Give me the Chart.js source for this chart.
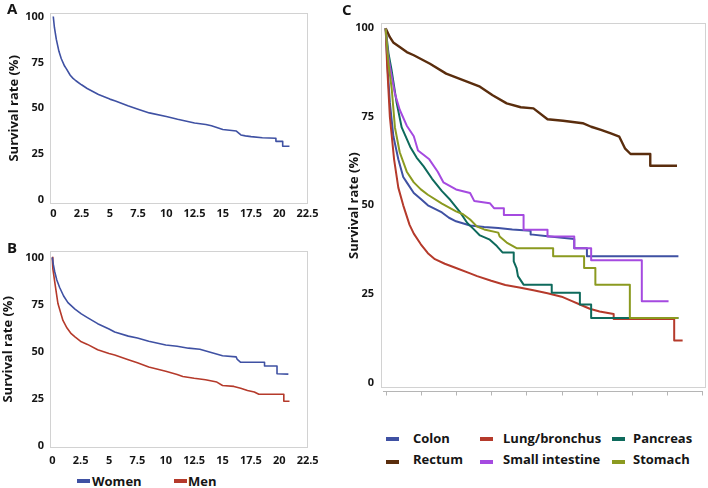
<!DOCTYPE html>
<html><head><meta charset="utf-8">
<script src="https://cdn.jsdelivr.net/npm/chart.js@4.4.0/dist/chart.umd.min.js"></script>
<style>
html,body{margin:0;padding:0;background:#fff;}
#wrap{position:relative;width:708px;height:488px;overflow:hidden;font-family:'Open Sans',sans-serif;font-weight:700;color:#151515;background:#fff;}
canvas{position:absolute;}
.pl{position:absolute;font-size:15px;line-height:15px;}
.lg{position:absolute;font-size:13px;line-height:16px;white-space:nowrap;}
.sw{position:absolute;width:13px;height:4px;}
</style></head><body>
<div id="wrap">
<canvas id="cA" width="330" height="228" style="left:0;top:0"></canvas>
<canvas id="cB" width="330" height="232" style="left:0;top:238px"></canvas>
<canvas id="cC" width="363" height="402" style="left:345px;top:0"></canvas>
<div class="pl" style="left:7px;top:1px">A</div>
<div class="pl" style="left:7px;top:240px">B</div>
<div class="pl" style="left:342px;top:2px">C</div>
<div id="legB"></div>
<div id="legC"></div>
</div>
<script>
// ---- tick values ----
const xTicks = [0, 2.5, 5, 7.5, 10, 12.5, 15, 17.5, 20, 22.5];
const yTicks = [0, 25, 50, 75, 100];
const yTitle = 'Survival rate (%)';

// ---- Panel A: all patients ----
const allT = [0, 0.1, 0.27, 0.5, 0.71, 1, 1.15, 1.5, 1.75, 2, 2.5, 3, 4, 5, 5.5, 6.6, 7.5, 8.5, 10, 11, 12.5, 13.5, 14, 15, 16.2, 16.6, 17, 17.5, 18.5, 19.7, 19.7, 20.3, 20.3, 20.9];
const allS = [100, 94, 87.5, 81, 77, 73, 71.6, 68, 66.3, 65, 62.8, 60.8, 57.5, 55, 54, 51.4, 49.5, 47.5, 45.5, 44, 42, 41.2, 40.5, 38.5, 37.6, 35.5, 35, 34.6, 34, 33.7, 32, 32, 29.3, 29.3];

// ---- Panel B: by sex ----
const sexNames = ['Women', 'Men'];
const womenT = [0, 0.1, 0.21, 0.4, 0.65, 1, 1.38, 2, 2.56, 3.1, 4, 5, 5.5, 6.7, 7.5, 8.5, 10, 11, 12, 13, 14, 15, 16.2, 16.3, 16.6, 18.7, 18.7, 19.8, 19.8, 20.8];
const womenS = [100, 96, 92.5, 88, 84, 79.5, 76, 72.5, 70, 68, 64.8, 62, 60.4, 58.2, 57.2, 55.5, 53.5, 52.8, 51.8, 51.2, 49.5, 47.8, 47.2, 45.8, 44.3, 44.3, 42.3, 42.3, 38.2, 38];
const menT = [0, 0.05, 0.21, 0.5, 0.94, 1.3, 1.67, 2, 2.56, 3.1, 4, 5, 5.5, 6.7, 7.5, 8.5, 10, 11, 11.5, 12.5, 13.5, 14.5, 15, 16, 16.6, 17.2, 17.8, 18.2, 20.4, 20.4, 20.9];
const menS = [100, 94, 87.3, 75.5, 66.5, 62.5, 59.5, 57.8, 55.2, 53.8, 51, 49, 48.2, 45.7, 44, 41.8, 39.5, 37.8, 36.8, 35.8, 35, 33.8, 32, 31.5, 30.5, 29.3, 28.5, 27.3, 27.3, 23.6, 23.6];

// ---- Panel C: by site ----
const siteNames = ['Colon', 'Lung/bronchus', 'Pancreas', 'Rectum', 'Small intestine', 'Stomach'];
const colonT = [0, 0.15, 0.3, 0.55, 0.9, 1.25, 1.5, 2, 2.5, 3, 3.5, 4, 4.5, 5, 6, 7, 8, 9, 10.3, 10.3, 11.5, 13.4, 13.4, 14.3, 14.3, 20.8];
const colonS = [100, 88, 79, 69.5, 63, 58, 56.5, 53.5, 51.8, 50, 49, 48, 46.5, 45.5, 44.3, 43.9, 43.6, 43.2, 42.8, 41.8, 41.3, 40.5, 37.9, 37.9, 35.6, 35.6];
const lungT = [0, 0.1, 0.3, 0.6, 0.9, 1.25, 1.7, 2, 2.5, 3, 3.5, 4.2, 5, 6, 6.5, 7.5, 8.5, 9.5, 10.5, 11.5, 12.5, 13.2, 13.8, 14.5, 15.2, 16.2, 16.2, 20.5, 20.5, 21.1];
const lungS = [100, 90, 75, 63, 55, 50, 44.5, 42, 39, 36.5, 34.8, 33.5, 32.3, 30.8, 30, 28.7, 27.5, 26.8, 26, 25.2, 24.2, 23, 22, 20.8, 20, 19.3, 17.9, 17.9, 11.8, 11.8];
const pancT = [0, 0.2, 0.43, 0.78, 1.14, 1.75, 2.2, 2.7, 3.3, 3.6, 4, 4.6, 5.3, 5.8, 6.2, 6.7, 7.4, 7.9, 8.3, 9.1, 9.1, 9.3, 9.4, 9.8, 11.8, 11.8, 13.8, 13.8, 14.6, 14.6, 20.8];
const pancS = [100, 93, 88, 79, 72, 66.5, 63.5, 61, 57.5, 56, 54, 51.5, 48, 45, 43.5, 41.5, 40.3, 38.5, 36.7, 36.7, 34.2, 32.3, 30, 27.6, 27.6, 25.3, 25.3, 22, 22, 18.2, 18.2];
const rectT = [0, 0.3, 0.54, 1, 1.5, 2, 3.15, 4.3, 5.5, 6.7, 7.6, 8.6, 9.6, 10.5, 11.5, 12.6, 14, 14.6, 15.3, 16, 16.6, 17, 17.4, 18.8, 18.8, 20.7];
const rectS = [100, 97.5, 96, 94.7, 93.3, 92.4, 90, 87.2, 85.4, 83.5, 81.1, 78.8, 77.7, 77.4, 74.3, 73.9, 73.2, 72.2, 71.3, 70.3, 69.4, 66.1, 64.5, 64.5, 61.2, 61.2];
const smallT = [0, 0.15, 0.31, 0.66, 1, 1.5, 2, 2.3, 3.1, 3.7, 4.1, 5, 6, 6.3, 7.4, 7.7, 8.4, 8.4, 9.8, 9.8, 11.5, 11.5, 13.4, 13.4, 14.6, 14.6, 18.2, 18.2, 20.1];
const smallS = [100, 93, 89, 81.5, 77, 72.5, 69.5, 65.5, 63, 59.5, 56.5, 54.5, 53.5, 51.2, 50.6, 49.2, 49.2, 47.3, 47.3, 43.1, 43.1, 41.2, 41.2, 37.9, 37.9, 34.5, 34.5, 22.9, 22.9];
const stomT = [0, 0.2, 0.43, 0.66, 1, 1.5, 2, 2.5, 3, 4, 5, 5.5, 6, 6.5, 7, 8, 8.1, 8.6, 9.3, 11.9, 11.9, 14.1, 14.1, 14.9, 14.9, 17.35, 17.35, 20.8];
const stomS = [100, 90, 83, 72, 65, 59.5, 56.5, 54.5, 53, 50.5, 48.3, 47.5, 46, 44, 43.2, 42.3, 41.2, 39.5, 37.9, 37.9, 35.6, 35.6, 32.3, 32.3, 27.6, 27.6, 18.2, 18.2];

// ---- styles ----
const C_BLUE = '#3f51a3', C_RED = '#b53a2b', C_TEAL = '#0e6a5c', C_BROWN = '#5a2d0d', C_PURPLE = '#a54ae0', C_OLIVE = '#8b9a20';
const TXT = '#151515';
const FAMILY = "'Open Sans', sans-serif";
const TICKFONT = {family: FAMILY, weight: '700', size: 11};
const TITLEFONT = {family: FAMILY, weight: '700', size: 13};

const pts = (T, S) => T.map((t, i) => ({x: t, y: S[i]}));

const boxPlugin = {
  id: 'box',
  beforeDatasetsDraw(chart, args, opts) {
    const {ctx, chartArea: a} = chart;
    ctx.save();
    ctx.strokeStyle = '#d2d2d2';
    ctx.lineWidth = 1;
    ctx.strokeRect(Math.round(a.left) + 0.5, Math.round(a.top) + 0.5, Math.round(a.width) - 1, Math.round(a.height) - 1);
    if (opts && opts.axis) {
      const xs = chart.scales.x;
      const y = Math.round(a.bottom) + 3.5;
      ctx.strokeStyle = '#b5b5b5';
      ctx.beginPath();
      ctx.moveTo(a.left + 2, y);
      ctx.lineTo(a.right - 3, y);
      xTicks.forEach(v => {
        const px = Math.round(xs.getPixelForValue(v)) + 0.5;
        ctx.moveTo(px, y);
        ctx.lineTo(px, y + 4);
      });
      ctx.stroke();
    }
    ctx.restore();
  }
};

function yScale(min, max, width, titlePad, tickPad) {
  return {
    type: 'linear', min, max,
    afterBuildTicks: s => { s.ticks = yTicks.map(v => ({value: v})); },
    afterFit: s => { s.width = width; },
    grid: {display: false, drawTicks: false},
    border: {display: false},
    ticks: {font: TICKFONT, color: TXT, padding: tickPad, autoSkip: false, callback: v => String(v)},
    title: {display: true, text: yTitle, font: TITLEFONT, color: TXT, padding: {top: titlePad, bottom: 0}}
  };
}
function xScale(min, max, height, tickPad, showLabels) {
  return {
    type: 'linear', min, max,
    afterBuildTicks: s => { s.ticks = xTicks.map(v => ({value: v})); },
    afterFit: s => { s.height = height; },
    grid: {display: false, drawTicks: false},
    border: {display: false},
    ticks: {display: showLabels, font: TICKFONT, color: TXT, padding: tickPad, maxRotation: 0, minRotation: 0, autoSkip: false, callback: v => String(v)}
  };
}
function makeChart(id, datasets, scales, padding, boxOpts) {
  return new Chart(document.getElementById(id), {
    type: 'line',
    data: {datasets},
    options: {
      responsive: false, animation: false, devicePixelRatio: 1, events: [],
      layout: {padding, autoPadding: false},
      elements: {point: {radius: 0}, line: {tension: 0, borderJoinStyle: 'round', borderCapStyle: 'butt'}},
      plugins: {legend: {display: false}, tooltip: {enabled: false}, box: boxOpts || {}},
      scales
    },
    plugins: [boxPlugin]
  });
}
const ds = (label, T, S, color, w) => ({label, data: pts(T, S), borderColor: color, backgroundColor: color, borderWidth: w, fill: false, pointRadius: 0});

// Panel A
makeChart('cA',
  [ds('All', allT, allS, C_BLUE, 1.6)],
  {x: xScale(-0.29, 22.54, 24, 3, true), y: yScale(-2.1, 102.1, 50, 6.6, 6)},
  {top: 6, right: 22, left: 0, bottom: 0});

// Panel B
makeChart('cB',
  [ds(sexNames[0], womenT, womenS, C_BLUE, 1.6), ds(sexNames[1], menT, menS, C_RED, 1.6)],
  {x: xScale(-0.2, 22.53, 22, 6, true), y: yScale(-1.2, 103.6, 50, 0.8, 6)},
  {top: 9, right: 22, left: 0, bottom: 0});

// Panel C (stomach drawn on top -> listed first)
makeChart('cC',
  [
    ds(siteNames[5], stomT, stomS, C_OLIVE, 2),
    ds(siteNames[4], smallT, smallS, C_PURPLE, 2),
    ds(siteNames[3], rectT, rectS, C_BROWN, 2.4),
    ds(siteNames[2], pancT, pancS, C_TEAL, 2),
    ds(siteNames[1], lungT, lungS, C_RED, 2),
    ds(siteNames[0], colonT, colonS, C_BLUE, 2)
  ],
  {x: xScale(-0.33, 22.76, 13, 0, false), y: yScale(-1.7, 101.5, 36, 1.6, 7)},
  {top: 23, right: 2, left: 0, bottom: 0},
  {axis: true});

// HTML legends (text as real text)
function legendItem(parent, name, color, swLeft, swTop, txtLeft, txtTop) {
  const s = document.createElement('div');
  s.className = 'sw'; s.style.left = swLeft + 'px'; s.style.top = swTop + 'px'; s.style.background = color;
  const t = document.createElement('div');
  t.className = 'lg'; t.style.left = txtLeft + 'px'; t.style.top = txtTop + 'px'; t.textContent = name;
  parent.appendChild(s); parent.appendChild(t);
}
const legB = document.getElementById('legB');
legendItem(legB, sexNames[0], C_BLUE, 77, 479, 92, 473);
legendItem(legB, sexNames[1], C_RED, 174, 479, 188, 473);

const legC = document.getElementById('legC');
const siteColors = [C_BLUE, C_RED, C_TEAL, C_BROWN, C_PURPLE, C_OLIVE];
const colSw = [386, 480, 612], colTx = [413, 503, 633];
const rowSw = [437, 460], rowTx = [429.5, 450.5];
siteNames.forEach((n, i) => {
  const c = i % 3, r = Math.floor(i / 3);
  legendItem(legC, n, siteColors[i], colSw[c], rowSw[r], colTx[c], rowTx[r]);
});
</script>
</body></html>
